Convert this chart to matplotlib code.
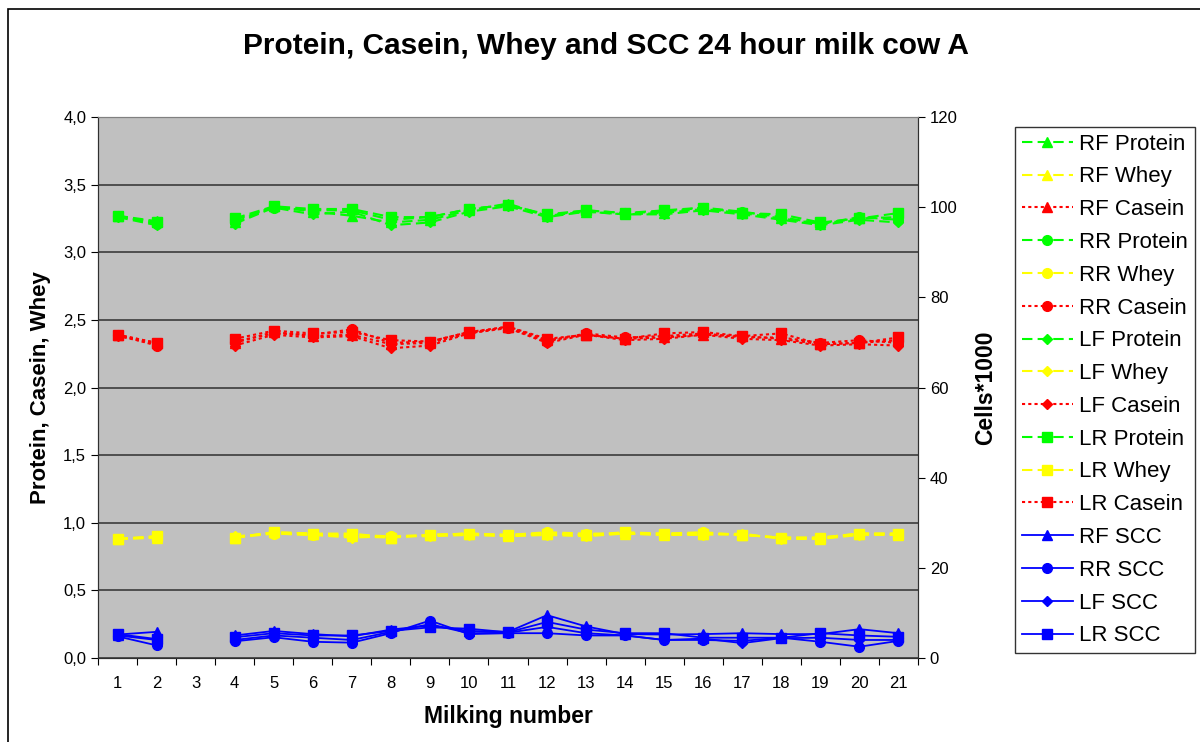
import numpy as np
import matplotlib
matplotlib.use("Agg")
import matplotlib.pyplot as plt
from matplotlib.patches import Rectangle

plt.rcParams['font.family'] = ['Liberation Sans', 'DejaVu Sans']

nan = np.nan
milking = list(range(1, 22))

# protein, casein and whey (%) per quarter, milking 3 missing
rf_protein = [3.27, 3.23, nan, 3.22, 3.34, 3.30, 3.27, 3.22, 3.24, 3.31, 3.36, 3.27, 3.30, 3.28, 3.29, 3.32, 3.29, 3.25, 3.21, 3.25, 3.26]
rr_protein = [3.27, 3.21, nan, 3.24, 3.33, 3.31, 3.31, 3.24, 3.26, 3.32, 3.35, 3.27, 3.31, 3.29, 3.30, 3.33, 3.30, 3.26, 3.21, 3.26, 3.24]
lf_protein = [3.26, 3.20, nan, 3.21, 3.33, 3.28, 3.30, 3.20, 3.22, 3.30, 3.34, 3.26, 3.30, 3.28, 3.28, 3.31, 3.28, 3.24, 3.20, 3.24, 3.22]
lr_protein = [3.27, 3.22, nan, 3.25, 3.34, 3.32, 3.32, 3.26, 3.26, 3.32, 3.35, 3.28, 3.31, 3.29, 3.31, 3.33, 3.29, 3.28, 3.22, 3.25, 3.29]

rf_casein = [2.39, 2.33, nan, 2.33, 2.41, 2.38, 2.39, 2.32, 2.33, 2.40, 2.45, 2.35, 2.39, 2.36, 2.37, 2.39, 2.38, 2.36, 2.32, 2.33, 2.35]
rr_casein = [2.39, 2.31, nan, 2.34, 2.40, 2.39, 2.43, 2.33, 2.34, 2.41, 2.44, 2.34, 2.40, 2.37, 2.38, 2.40, 2.37, 2.37, 2.33, 2.35, 2.33]
lf_casein = [2.38, 2.32, nan, 2.31, 2.39, 2.37, 2.38, 2.29, 2.31, 2.40, 2.44, 2.33, 2.39, 2.35, 2.36, 2.39, 2.36, 2.35, 2.31, 2.32, 2.31]
lr_casein = [2.39, 2.33, nan, 2.36, 2.42, 2.40, 2.41, 2.35, 2.34, 2.41, 2.45, 2.36, 2.39, 2.36, 2.40, 2.41, 2.38, 2.40, 2.32, 2.33, 2.37]

rf_whey = [0.88, 0.89, nan, 0.89, 0.93, 0.92, 0.90, 0.89, 0.91, 0.92, 0.90, 0.92, 0.91, 0.92, 0.91, 0.92, 0.91, 0.89, 0.88, 0.92, 0.91]
rr_whey = [0.88, 0.90, nan, 0.89, 0.92, 0.91, 0.91, 0.90, 0.91, 0.92, 0.91, 0.93, 0.92, 0.92, 0.92, 0.93, 0.91, 0.89, 0.89, 0.92, 0.92]
lf_whey = [0.88, 0.89, nan, 0.90, 0.92, 0.91, 0.89, 0.90, 0.90, 0.91, 0.90, 0.91, 0.90, 0.92, 0.91, 0.91, 0.92, 0.88, 0.88, 0.91, 0.91]
lr_whey = [0.88, 0.90, nan, 0.89, 0.93, 0.92, 0.92, 0.89, 0.91, 0.92, 0.91, 0.92, 0.91, 0.93, 0.92, 0.92, 0.91, 0.89, 0.89, 0.92, 0.92]

# somatic cell count (cells*1000)
rf_scc = [5.2, 5.8, nan, 5.0, 6.0, 5.3, 4.8, 6.3, 7.2, 6.0, 5.8, 9.5, 7.0, 5.3, 5.2, 5.3, 5.5, 5.3, 5.3, 6.4, 5.5]
rr_scc = [4.8, 2.8, nan, 3.7, 4.6, 3.6, 3.4, 5.5, 8.3, 5.3, 5.5, 5.5, 5.0, 5.0, 4.0, 4.0, 3.8, 4.5, 3.6, 2.5, 3.8]
lf_scc = [5.0, 4.0, nan, 4.0, 5.0, 4.5, 4.0, 5.8, 7.5, 5.5, 5.6, 6.9, 5.5, 5.0, 4.0, 4.3, 3.3, 4.4, 4.5, 4.0, 4.0]
lr_scc = [5.3, 4.2, nan, 4.6, 5.5, 5.0, 5.0, 6.0, 6.8, 6.5, 5.7, 8.0, 6.3, 5.5, 5.5, 4.5, 4.5, 4.5, 5.5, 5.0, 4.7]

fig = plt.figure(figsize=(12, 7.42), dpi=100)
fig.patches.append(Rectangle((8/1200, -0.05), 1.2, 1 - 9/742 + 0.05, transform=fig.transFigure,
                             fill=False, edgecolor='black', linewidth=1.2))

ax = fig.add_axes([98/1200, 1 - 658/742, (918 - 98)/1200, (658 - 117)/742])
ax.set_facecolor('#C0C0C0')
ax2 = ax.twinx()

green, yellow, red, blue = '#00FF00', '#FFFF00', '#FF0000', '#0000FF'
dash = (0, (5, 2.5))
dot = (0, (1.5, 1.5))
ms = 7

handles = []
for quarter, marker, prot, whey, cas in [
        ('RF', '^', rf_protein, rf_whey, rf_casein),
        ('RR', 'o', rr_protein, rr_whey, rr_casein),
        ('LF', 'D', lf_protein, lf_whey, lf_casein),
        ('LR', 's', lr_protein, lr_whey, lr_casein)]:
    msz = ms - 1.5 if marker == 'D' else ms
    h1, = ax.plot(milking, prot, color=green, ls=dash, lw=1.5, marker=marker, ms=msz, label=quarter + ' Protein')
    h2, = ax.plot(milking, whey, color=yellow, ls=dash, lw=1.5, marker=marker, ms=msz, label=quarter + ' Whey')
    h3, = ax.plot(milking, cas, color=red, ls=dot, lw=1.5, marker=marker, ms=msz, label=quarter + ' Casein')
    handles += [h1, h2, h3]

for quarter, marker, scc in [('RF', '^', rf_scc), ('RR', 'o', rr_scc), ('LF', 'D', lf_scc), ('LR', 's', lr_scc)]:
    msz = ms - 1.5 if marker == 'D' else ms
    h, = ax2.plot(milking, scc, color=blue, lw=1.3, marker=marker, ms=msz, label=quarter + ' SCC')
    handles.append(h)

ax.set_xlim(0.5, 21.5)
ax.set_ylim(0, 4)
ax2.set_ylim(0, 120)
ax.set_yticks(np.arange(0, 4.01, 0.5))
ax.set_yticklabels([f'{v:.1f}'.replace('.', ',') for v in np.arange(0, 4.01, 0.5)])
ax2.set_yticks(range(0, 121, 20))
ax.grid(axis='y', color='#303030', lw=1.1)
ax.set_axisbelow(True)

ax.set_xticks(np.arange(0.5, 21.6, 1))
ax.set_xticklabels([])
ax.set_xticks(milking, minor=True)
ax.set_xticklabels([str(m) for m in milking], minor=True)
ax.tick_params(axis='x', which='minor', length=0, pad=13, labelsize=12)
ax.tick_params(axis='x', which='major', length=5, direction='out')
ax.tick_params(axis='y', length=5, labelsize=12)
ax2.tick_params(axis='y', length=5, labelsize=12)

for a in (ax, ax2):
    a.spines['top'].set_color('#808080')
    a.spines['left'].set_color('#303030')
    a.spines['bottom'].set_color('#303030')
    a.spines['right'].set_color('#303030')

ax.set_xlabel('Milking number', fontsize=16.5, fontweight='bold', labelpad=10)
ax.set_ylabel('Protein, Casein, Whey', fontsize=16, fontweight='bold', labelpad=9)
ax2.set_ylabel('Cells*1000', fontsize=16.5, fontweight='bold', labelpad=12)

fig.suptitle('Protein, Casein, Whey and SCC 24 hour milk cow A', x=0.505, y=0.957,
             fontsize=21.5, fontweight='bold')

leg = fig.legend(handles=handles, loc='upper left', bbox_to_anchor=(1015/1200, 1 - 127/742),
                 fontsize=16, frameon=True, fancybox=False, edgecolor='black',
                 handlelength=2.3, labelspacing=0.53, borderpad=0.3, handletextpad=0.3,
                 borderaxespad=0)
leg.get_frame().set_linewidth(1.0)

fig.savefig('out.png', dpi=100)
